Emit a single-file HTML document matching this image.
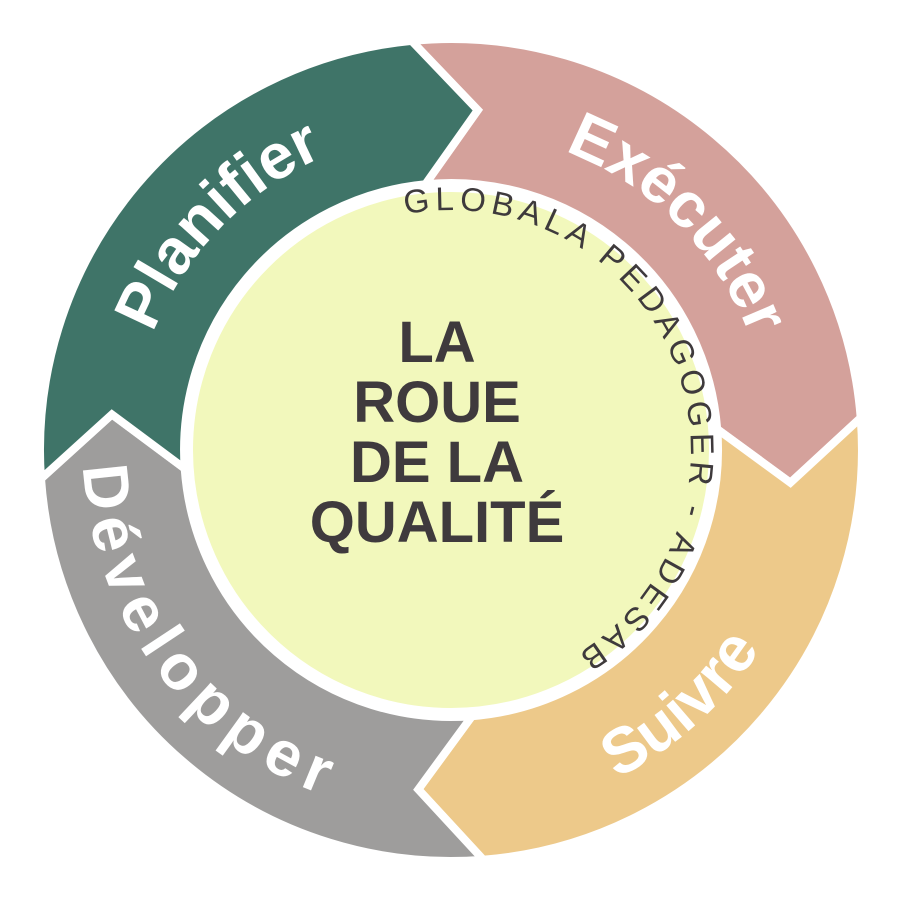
<!DOCTYPE html>
<html><head><meta charset="utf-8"><style>
html,body{margin:0;padding:0;background:#fff;}
svg{display:block;}
.seg{font-family:"Liberation Sans",sans-serif;font-weight:bold;fill:#fff;font-size:64px;}
</style></head><body>
<svg id="s" width="902" height="900" viewBox="0 0 902 900" xmlns="http://www.w3.org/2000/svg">
<g id="segs"></g>
<circle cx="451" cy="450" r="262" fill="#f2f8bc" stroke="#fff" stroke-width="8"/>
<defs>
<path id="p1"/><path id="p2"/><path id="p3"/><path id="p4"/><path id="p5"/>
</defs>
<text class="seg"><textPath href="#p1" startOffset="50%" text-anchor="middle">Planifier</textPath></text>
<text class="seg"><textPath href="#p2" startOffset="50%" text-anchor="middle">Exécuter</textPath></text>
<text class="seg"><textPath href="#p3" startOffset="50%" text-anchor="middle">Suivre</textPath></text>
<text class="seg"><textPath href="#p4" startOffset="50%" text-anchor="middle" textLength="430" lengthAdjust="spacing">Développer</textPath></text>
<text font-family="Liberation Sans, sans-serif" font-size="33" fill="#3e3a3c"><textPath href="#p5" textLength="665" lengthAdjust="spacing">GLOBALA PEDAGOGER - ADESAB</textPath></text>
<g font-family="Liberation Sans, sans-serif" font-weight="bold" font-size="58" fill="#3f3a3d" text-anchor="middle">
<text x="437" y="362">LA</text>
<text x="437" y="422">ROUE</text>
<text x="437" y="482">DE LA</text>
<text x="437" y="542">QUALITÉ</text>
</g>
</svg>
<script>
var cx=451,cy=450,R=411,Ri=267,Rm=341,T=10;
function P(a,r){a=a*Math.PI/180;return (cx+r*Math.cos(a)).toFixed(1)+","+(cy+r*Math.sin(a)).toFixed(1);}
var b=[-95.5,-4.5,85.5,176];var col=["#d4a19b","#edc98a","#9e9d9c","#3f7468"];
var g=document.getElementById("segs"),h="";
for(var i=0;i<4;i++){var A=b[i],B=b[(i+1)%4];if(B<A)B+=360;
var d="M"+P(A,R)+" A"+R+","+R+" 0 0 1 "+P(B,R)+" L"+P(B+T,Rm)+" L"+P(B,Ri)+" A"+Ri+","+Ri+" 0 0 0 "+P(A,Ri)+" L"+P(A+T,Rm)+" Z";
h+='<path d="'+d+'" fill="'+col[i]+'" stroke="#fff" stroke-width="8" stroke-linejoin="miter"/>';}
g.innerHTML=h;
function arc(id,a1,a2,r){var sw=a2>a1?1:0;document.getElementById(id).setAttribute("d","M"+P(a1,r)+" A"+r+","+r+" 0 0 "+sw+" "+P(a2,r));}
arc("p1",-216,-56,320);
arc("p2",-125,35,320);
arc("p3",113,-17,368);
arc("p4",217,71,368);
arc("p5",-101,75,240);
</script>
</body></html>
